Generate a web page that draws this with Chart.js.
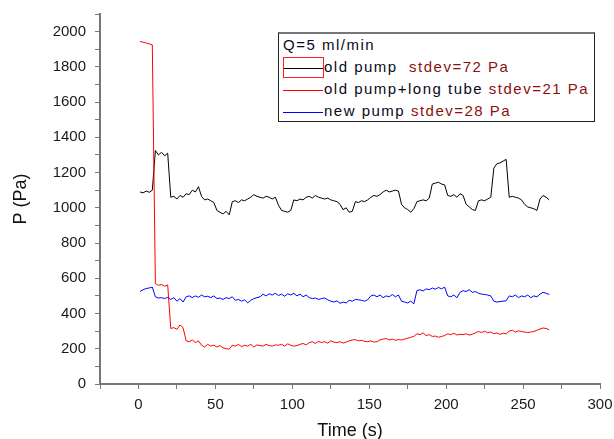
<!DOCTYPE html>
<html>
<head>
<meta charset="utf-8">
<script src="https://cdn.jsdelivr.net/npm/chart.js@4/dist/chart.umd.min.js"></script>
<style>
  body { margin: 0; background: #fff; overflow: hidden; }
  #wrap { position: relative; width: 614px; height: 439px; }
  #legend {
    position: absolute; left: 278px; top: 32px; width: 317px; height: 90px;
    box-sizing: border-box; border: 1px solid #222; border-top: 2px solid #777;
    background: #fff; font-family: "Liberation Sans", Arial, sans-serif; font-size: 15px;
    letter-spacing: 1.5px; color: #0a0a1a;
  }
  #legend .row { position: absolute; left: 4px; height: 22px; line-height: 22px; white-space: pre; }
  #legend .sample { display: inline-block; width: 40px; height: 0; border-top: 1px solid; vertical-align: middle; margin-right: 1px; }
  #legend .sd { color: #8b1010; }
  #legend .sel { position: absolute; left: 4px; top: 23px; width: 39px; height: 19px; border: 1px solid #ff2020; }
</style>
</head>
<body>
<div id="wrap">
  <canvas id="pChart" width="614" height="439"></canvas>
  <div id="legend">
    <div class="row" style="top:0px">Q=5 ml/min</div>
    <div class="row" style="top:22px"><span class="sample" style="border-color:#000"></span>old pump  <span class="sd">stdev=72 Pa</span></div>
    <div class="row" style="top:44px"><span class="sample" style="border-color:#ff0000"></span>old pump+long tube <span class="sd">stdev=21 Pa</span></div>
    <div class="row" style="top:66px"><span class="sample" style="border-color:#0000ff"></span>new pump <span class="sd">stdev=28 Pa</span></div>
    <div class="sel"></div>
  </div>
</div>
<script>
// time (s)
const times = [1,3,5,7,9,11,13,15,17,19,21,23,25,27,29,31,33,35,37,39,41,43,45,47,49,51,53,55,57,59,
  61,63,65,67,69,71,73,75,77,79,81,83,85,87,89,91,93,95,97,99,101,103,105,107,109,111,113,115,117,119,
  121,123,125,127,129,131,133,135,137,139,141,143,145,147,149,151,153,155,157,159,161,163,165,167,169,171,173,175,177,179,
  181,183,185,187,189,191,193,195,197,199,201,203,205,207,209,211,213,215,217,219,221,223,225,227,229,231,233,235,237,239,
  241,243,245,247,249,251,253,255,257,259,261,263,265,267];

// old pump (Pa)
const oldPump = [1090,1085,1095,1088,1100,1325,1300,1315,1295,1310,1060,1065,1050,1070,1060,1080,1075,1100,1090,1120,
  1065,1045,1050,1040,1030,985,975,965,980,960,1035,1040,1030,1045,1040,1050,1060,1075,1065,1060,
  1055,1065,1060,1050,1060,1015,985,980,975,985,1045,1040,1050,1045,1060,1065,1055,1070,1060,1055,
  1050,1055,1045,1040,1035,1020,990,1000,975,980,1035,1030,1040,1035,1045,1060,1070,1065,1075,1090,
  1100,1090,1095,1100,1095,1020,1000,990,975,995,1035,1040,1045,1040,1055,1135,1140,1145,1135,1130,
  1070,1065,1075,1060,1080,1070,1020,1005,990,985,1040,1045,1040,1050,1060,1225,1250,1255,1265,1275,
  1060,1065,1060,1055,1045,1020,1005,1000,995,985,1050,1070,1060,1045];

// old pump + long tube (Pa)
const longTube = [1944,1940,1935,1930,1925,570,560,565,555,562,315,320,310,335,320,245,240,250,235,245,
  220,210,225,215,220,210,218,205,200,198,220,215,225,212,220,215,225,210,222,218,
  215,225,218,215,222,220,225,215,228,220,215,218,225,230,222,235,240,230,242,235,
  240,232,245,238,235,240,232,238,245,250,252,245,248,242,240,245,238,240,250,255,
  258,250,255,248,252,250,255,260,265,270,285,280,290,275,280,270,272,265,270,275,
  285,280,288,278,282,280,285,278,282,290,298,292,300,290,295,285,290,282,288,285,
  300,305,295,302,298,295,292,295,298,305,312,318,315,308];

// new pump (Pa)
const newPump = [525,535,542,545,550,495,488,490,485,492,480,490,470,485,465,495,500,490,500,492,
  505,495,498,490,500,485,488,480,490,485,495,475,480,470,478,460,475,485,490,495,
  510,500,512,505,515,502,510,498,512,505,515,500,510,495,505,490,485,488,480,485,
  488,478,470,465,472,458,465,460,475,470,480,478,475,470,478,500,505,495,505,490,
  500,495,508,495,505,470,465,460,470,455,530,535,528,540,535,545,538,548,540,550,
  500,495,505,490,520,530,525,535,520,525,515,510,508,505,500,470,465,468,470,472,
  500,495,505,490,500,495,505,490,500,495,510,520,515,508];

const xTicksShown = [0, 50, 100, 150, 200, 250, 300];
const yTicksShown = [0, 200, 400, 600, 800, 1000, 1200, 1400, 1600, 1800, 2000];

function pts(vals) {
  return times.map((t, i) => ({ x: t, y: vals[i] }));
}

const axisGrey = '#777';
const tickFont = { family: 'Liberation Sans, Arial, sans-serif', size: 15 };
const titleFont = { family: 'Liberation Sans, Arial, sans-serif', size: 18 };

const ctx = document.getElementById('pChart').getContext('2d');
new Chart(ctx, {
  type: 'line',
  data: {
    datasets: [
      { label: 'old pump+long tube', data: pts(longTube), borderColor: '#ff0000', borderWidth: 1 },
      { label: 'new pump', data: pts(newPump), borderColor: '#0000ff', borderWidth: 1 },
      { label: 'old pump', data: pts(oldPump), borderColor: '#000000', borderWidth: 1 }
    ]
  },
  options: {
    responsive: false,
    animation: false,
    devicePixelRatio: 1,
    elements: { point: { radius: 0 }, line: { tension: 0 } },
    layout: { padding: { top: 14, right: 14, left: 0, bottom: 0 } },
    plugins: { legend: { display: false }, tooltip: { enabled: false } },
    scales: {
      x: {
        type: 'linear', min: -25, max: 300,
        afterFit: function (scale) {
          scale.height = 55;
          scale.paddingLeft = 0;
          scale.paddingRight = 0;
        },
        border: { display: true, color: axisGrey, width: 2 },
        grid: { drawOnChartArea: false, drawTicks: true, tickLength: 5, color: axisGrey },
        ticks: {
          stepSize: 25, autoSkip: false, maxRotation: 0, padding: 7,
          color: '#1a1a1a', font: tickFont,
          callback: function (v) { return xTicksShown.includes(v) ? String(v) : ''; }
        },
        title: { display: true, text: 'Time (s)', color: '#111', font: titleFont, padding: { top: 0, bottom: -3 } }
      },
      y: {
        type: 'linear', min: 0, max: 2100,
        afterFit: function (scale) {
          scale.width = 100;
          scale.paddingTop = 0;
          scale.paddingBottom = 0;
        },
        border: { display: true, color: axisGrey, width: 2 },
        grid: { drawOnChartArea: false, drawTicks: true, tickLength: 5, color: axisGrey },
        ticks: {
          stepSize: 100, autoSkip: false, padding: 9,
          color: '#1a1a1a', font: tickFont,
          callback: function (v) { return yTicksShown.includes(v) ? String(v) : ''; }
        },
        title: { display: true, text: 'P (Pa)', color: '#111', font: titleFont, padding: { top: 10, bottom: 0 } }
      }
    }
  }
});
</script>
</body>
</html>
